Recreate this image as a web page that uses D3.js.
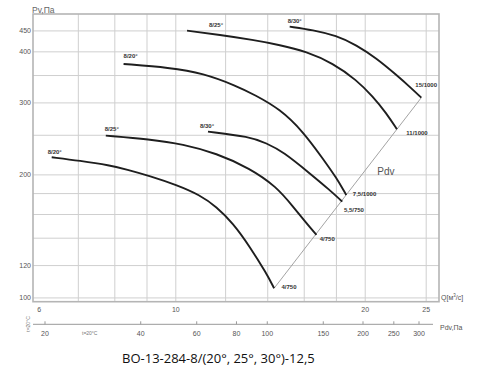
<!DOCTYPE html>
<html>
<head>
<meta charset="utf-8">
<script src="https://cdn.jsdelivr.net/npm/d3@7"></script>
<style>
  body { margin: 0; background: #fff; }
  svg { display: block; font-family: "Liberation Sans", Arial, sans-serif; }
</style>
</head>
<body>
<div class="chart"></div>
<script>
var svgWidth = 500;
var svgHeight = 373;

// plot frame
var margin = { top: 14, right: 61, bottom: 71.3, left: 33 };
var width = svgWidth - margin.left - margin.right;
var height = svgHeight - margin.top - margin.bottom;

// curve data: Q (thousand m3/h) vs Pv (Pa)
var curveNames = ["8/20°", "8/25°", "8/30°", "8/20°", "8/25°", "8/30°"];
var motorNames = ["4/750", "4/750", "5,5/750", "7,5/1000", "11/1000", "15/1000"];

var q1 = [6.35, 7.04, 7.86, 8.35, 9.09, 10.03, 10.92, 11.60, 12.33, 13.11, 13.93, 14.33];
var pv1 = [220.9, 216.6, 211.0, 206.3, 198.8, 189.0, 178.6, 167.2, 152.3, 133.5, 114.9, 105.6];

var q2 = [7.74, 9.09, 10.27, 11.60, 13.11, 14.45, 15.36, 16.13, 16.73];
var pv2 = [249.5, 244.5, 237.7, 225.9, 207.6, 187.2, 167.2, 152.3, 142.6];

var q3 = [11.25, 13.11, 13.93, 14.80, 16.32, 17.56, 18.39];
var pv3 = [255.2, 248.0, 239.1, 228.0, 201.8, 183.7, 172.0];

var q4 = [8.26, 9.78, 11.05, 12.49, 13.35, 14.63, 15.93, 17.14, 17.99, 18.66];
var pv4 = [373.6, 365.9, 354.5, 330.0, 313.8, 290.0, 255.4, 218.8, 197.0, 178.6];

var q5 = [10.42, 11.75, 13.27, 14.63, 16.13, 17.78, 19.36, 20.58, 21.61, 22.46];
var pv5 = [450.7, 440.0, 427.7, 415.9, 400.5, 375.1, 341.6, 310.8, 283.1, 258.6];

var q6 = [15.17, 16.52, 17.99, 19.36, 20.83, 22.41, 23.68, 24.56];
var pv6 = [461.0, 452.4, 438.3, 415.9, 385.8, 351.3, 325.8, 309.0];

// ticks and grid
var yGrid = [100, 120, 140, 160, 180, 200, 250, 300, 350, 400, 450];
var yTickLabels = [100, 120, 200, 300, 400, 450];
var xGrid = [7, 8, 9, 10, 12, 14, 16, 18, 20, 25];
var xTickLabels = [6, 10, 20, 25];
var pdvTicks = [20, 40, 60, 80, 100, 150, 200, 250, 300];

var qSeries = [q1, q2, q3, q4, q5, q6];
var pvSeries = [pv1, pv2, pv3, pv4, pv5, pv6];

// label offsets (px) from the first / last point of each curve
var startOffsets = [[-4, -3.5], [-1, -4.5], [-8, -4], [0, -6], [22, -4], [-2, -4]];
var endOffsets = [[7.4, 1], [3.3, 6], [1.6, 10], [6.6, 1], [9.4, 5.6], [-6, -11]];

var svg = d3.select(".chart")
  .append("svg")
  .attr("width", svgWidth)
  .attr("height", svgHeight);

var chartGroup = svg.append("g")
  .attr("transform", `translate(${margin.left}, ${margin.top})`);

var xScale = d3.scaleLog().domain([5.93, 26.2]).range([0, width]);
var yScale = d3.scaleLog().domain([97.9, 495]).range([height, 0]);
var pdvScale = d3.scaleLog().domain([20, 300]).range([45 - margin.left, 419 - margin.left]);

// grid
chartGroup.selectAll(".hgrid")
  .data(yGrid)
  .enter()
  .append("line")
  .attr("x1", 0)
  .attr("x2", width)
  .attr("y1", d => yScale(d))
  .attr("y2", d => yScale(d))
  .attr("stroke", "#cfcfcf")
  .attr("stroke-width", 1);

chartGroup.selectAll(".vgrid")
  .data(xGrid)
  .enter()
  .append("line")
  .attr("x1", d => xScale(d))
  .attr("x2", d => xScale(d))
  .attr("y1", 0)
  .attr("y2", height)
  .attr("stroke", "#cfcfcf")
  .attr("stroke-width", 1);

// frame
chartGroup.append("rect")
  .attr("width", width)
  .attr("height", height)
  .attr("fill", "none")
  .attr("stroke", "#b5b5b5")
  .attr("stroke-width", 1.6);

// y tick labels
chartGroup.selectAll(".ylab")
  .data(yTickLabels)
  .enter()
  .append("text")
  .attr("x", -2)
  .attr("y", d => yScale(d) + 2.5)
  .attr("text-anchor", "end")
  .attr("font-size", "7px")
  .attr("fill", "#555")
  .text(d => d);

// x tick labels
chartGroup.selectAll(".xlab")
  .data(xTickLabels)
  .enter()
  .append("text")
  .attr("x", d => xScale(d) + (d === 6 ? 3 : 0))
  .attr("y", height + 10)
  .attr("text-anchor", "middle")
  .attr("font-size", "7px")
  .attr("fill", "#555")
  .text(d => d);

svg.append("text")
  .attr("x", 32)
  .attr("y", 13)
  .attr("font-size", "8.5px")
  .attr("fill", "#666")
  .text("Pv,Па");

var qLabel = svg.append("text")
  .attr("x", 441)
  .attr("y", 300)
  .attr("font-size", "7px")
  .attr("fill", "#555");
qLabel.append("tspan").text("Q[м");
qLabel.append("tspan").attr("font-size", "4.5px").attr("dy", -3).text("3");
qLabel.append("tspan").attr("dy", 3).text("/с]");

// Pdv axis below
var pdvGroup = svg.append("g")
  .attr("transform", `translate(${margin.left}, 324.3)`);

pdvGroup.append("line")
  .attr("x1", 0)
  .attr("x2", 433 - margin.left)
  .attr("stroke", "#999")
  .attr("stroke-width", 1);

pdvGroup.selectAll(".ptick")
  .data(pdvTicks)
  .enter()
  .append("line")
  .attr("x1", d => pdvScale(d))
  .attr("x2", d => pdvScale(d))
  .attr("y1", -3)
  .attr("y2", 0)
  .attr("stroke", "#999");

pdvGroup.selectAll(".plab")
  .data(pdvTicks)
  .enter()
  .append("text")
  .attr("x", d => pdvScale(d))
  .attr("y", 11.5)
  .attr("text-anchor", "middle")
  .attr("font-size", "7px")
  .attr("fill", "#555")
  .text(d => d);

svg.append("text")
  .attr("x", 440)
  .attr("y", 330)
  .attr("font-size", "7px")
  .attr("fill", "#555")
  .text("Pdv,Па");

svg.append("text")
  .attr("x", 82)
  .attr("y", 334.5)
  .attr("font-size", "5px")
  .attr("fill", "#777")
  .text("t=20°C");

svg.append("text")
  .attr("transform", "translate(30, 324) rotate(-90)")
  .attr("text-anchor", "middle")
  .attr("font-size", "5px")
  .attr("fill", "#777")
  .text("t=20°C");

// Pdv line through the curve ends
var ends = qSeries.map((q, i) => [q[q.length - 1], pvSeries[i][pvSeries[i].length - 1]])
  .sort((a, b) => a[0] - b[0]);

var straight = d3.line()
  .x(d => xScale(d[0]))
  .y(d => yScale(d[1]));

chartGroup.append("path")
  .attr("d", straight([ends[0], ends[ends.length - 1]]))
  .attr("fill", "none")
  .attr("stroke", "#999")
  .attr("stroke-width", 0.9);

chartGroup.append("text")
  .attr("x", xScale(20.9))
  .attr("y", yScale(200))
  .attr("font-size", "10px")
  .attr("fill", "#555")
  .text("Pdv");

// fan curves, basis spline to smooth out reading noise
var curveLine = d3.line()
  .x(d => xScale(d[0]))
  .y(d => yScale(d[1]))
  .curve(d3.curveBasis);

qSeries.forEach(function(q, i) {
  var pts = q.map((v, j) => [v, pvSeries[i][j]]);

  chartGroup.append("path")
    .attr("d", curveLine(pts))
    .attr("fill", "none")
    .attr("stroke", "#1e1e1e")
    .attr("stroke-width", 1.9);

  var first = pts[0];
  var last = pts[pts.length - 1];

  chartGroup.append("text")
    .attr("x", xScale(first[0]) + startOffsets[i][0])
    .attr("y", yScale(first[1]) + startOffsets[i][1])
    .attr("font-size", "6px")
    .attr("font-weight", "bold")
    .attr("fill", "#333")
    .text(curveNames[i]);

  chartGroup.append("text")
    .attr("x", xScale(last[0]) + endOffsets[i][0])
    .attr("y", yScale(last[1]) + endOffsets[i][1])
    .attr("font-size", "6px")
    .attr("font-weight", "bold")
    .attr("fill", "#333")
    .text(motorNames[i]);
});

// title
svg.append("text")
  .attr("x", 122)
  .attr("y", 362.5)
  .attr("font-family", "'Open Sans', sans-serif")
  .attr("font-size", "13px")
  .attr("fill", "#111")
  .text("ВО-13-284-8/(20°, 25°, 30°)-12,5");
</script>
</body>
</html>
